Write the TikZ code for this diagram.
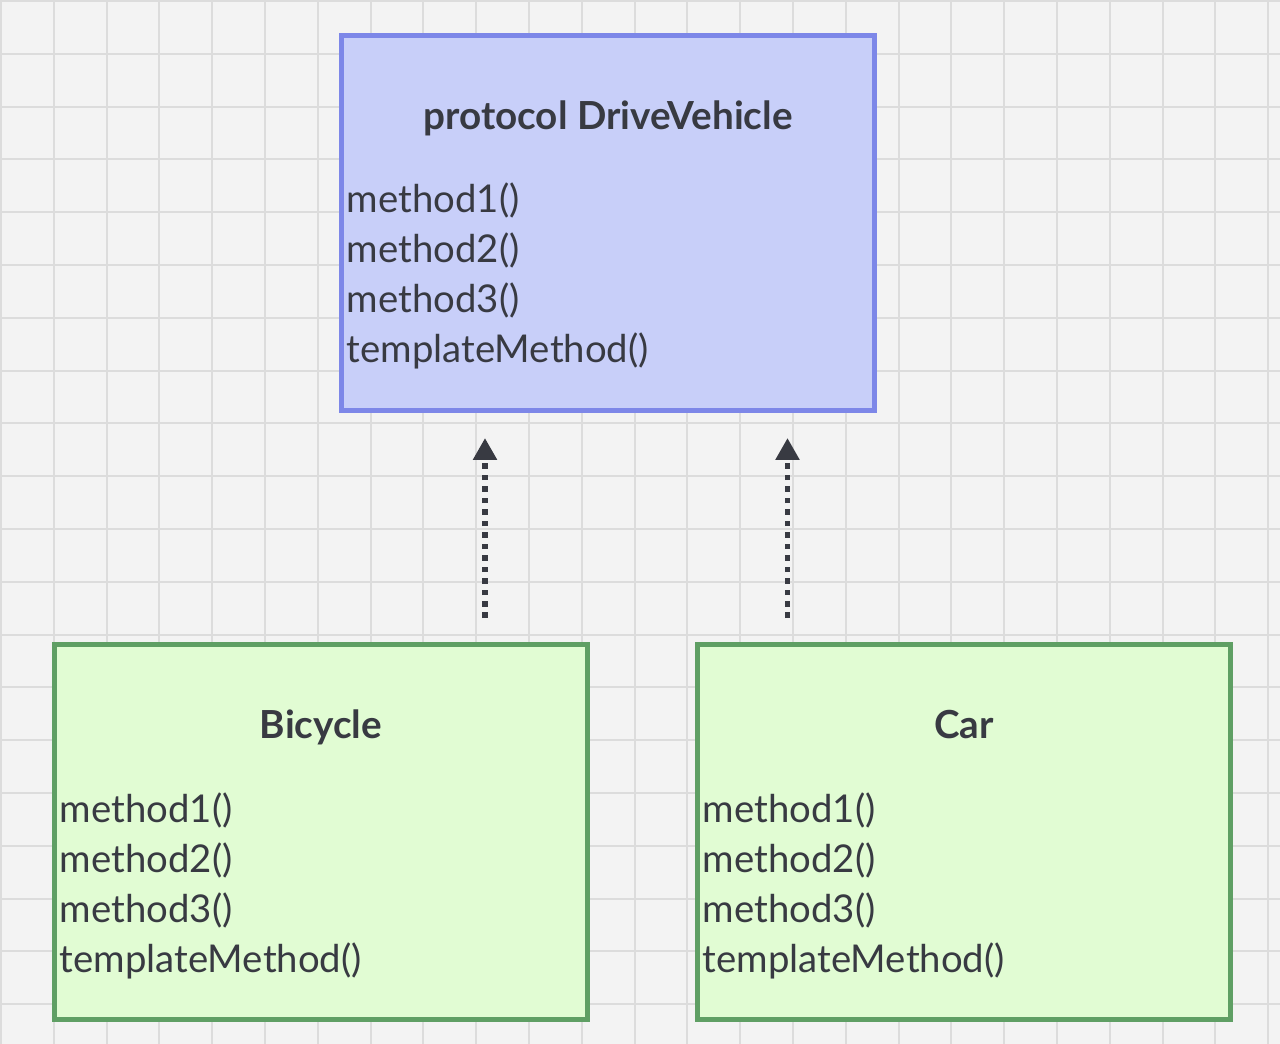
\documentclass[tikz,border=0pt]{standalone}
\usepackage{fontspec}
\setmainfont{Lato}
\usetikzlibrary{positioning,arrows.meta}
\definecolor{paper}{HTML}{F3F3F3}
\definecolor{gridline}{HTML}{DCDCDC}
\definecolor{protofill}{HTML}{C8CFF9}
\definecolor{protoline}{HTML}{7D87E8}
\definecolor{classfill}{HTML}{E1FCD3}
\definecolor{classline}{HTML}{5F9F64}
\definecolor{ink}{HTML}{383A42}
\tikzset{
    box/.style={rectangle,minimum width=10.66cm,minimum height=7.5cm,line width=0.1cm,inner sep=0pt},
    protobox/.style={box,fill=protofill,draw=protoline},
    classbox/.style={box,fill=classfill,draw=classline},
    title/.style={font=\fontsize{22}{26}\selectfont\bfseries,text=ink,inner sep=0pt,anchor=base},
    meth/.style={font=\fontsize{21.8}{26}\selectfont,text=ink,inner sep=0pt,anchor=base west},
    realize/.style={ink,line width=0.11cm,dash pattern=on 0.11cm off 0.12cm,-{Triangle[length=0.44cm,width=0.46cm]},shorten <=0.48cm,shorten >=0.5cm}
}
\begin{document}
\begin{tikzpicture}
        \useasboundingbox (0,0) rectangle (25.6,-20.88);
        \fill[paper] (0,0) rectangle (25.6,-20.88);
        \begin{scope}[shift={(0.02,-0.02)}]
        \draw[gridline,line width=0.04cm,step=1.056cm] (-0.02,-20.9) grid (25.6,0.02);
        \end{scope}
        % boxes
        \node[protobox] (drive) at (12.16,-4.46) {};
        \node[classbox] (bicycle) at (6.42,-16.64) {};
        \node[classbox,right=2.1cm of bicycle] (car) {};
        \node[title] (drive-t) at ([yshift=-1.94cm]drive.north) {protocol DriveVehicle};
        \node[title] (bicycle-t) at ([yshift=-1.92cm]bicycle.north) {Bicycle};
        \node[title] (car-t) at ([yshift=-1.92cm]car.north) {Car};
        \foreach \b in {drive,bicycle,car}
            \foreach \m [count=\i] in {method1(),method2(),method3(),templateMethod()}
                \node[meth] (\b-m\i) at ([xshift=0.15cm,yshift={-2.6cm-\i*1cm}]\b.north west) {\m};
        % conforms to
        \draw[realize] ([xshift=3.28cm]bicycle.north) -- ([xshift=3.28cm]bicycle.north |- drive.south);
        \draw[realize] ([xshift=-3.53cm]car.north) -- ([xshift=-3.53cm]car.north |- drive.south);
    \end{tikzpicture}
\end{document}
